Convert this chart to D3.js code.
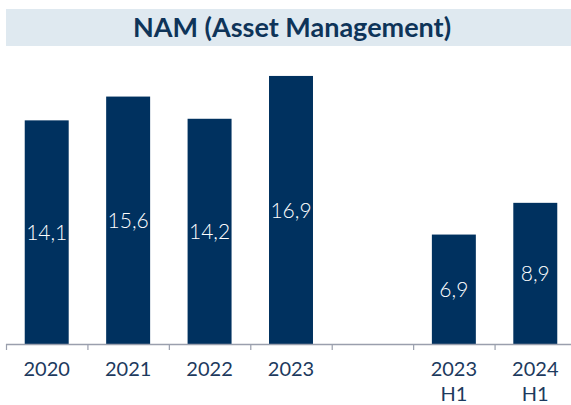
<!DOCTYPE html>
<html>
<head>
<meta charset="utf-8">
<script src="https://cdn.jsdelivr.net/npm/d3@7"></script>
<style>
  body { margin: 0; background: #fff; }
  svg { display: block; font-family: Lato, "Open Sans", sans-serif; }
</style>
</head>
<body>
<svg id="chart" width="571" height="405"></svg>
<script>
const categories = ['2020', '2021', '2022', '2023', '', '2023 H1', '2024 H1'];
const values = [14.1, 15.6, 14.2, 16.9, null, 6.9, 8.9];
const valueLabels = ['14,1', '15,6', '14,2', '16,9', '', '6,9', '8,9'];

const svg = d3.select('svg#chart');

// title band
svg.append('rect')
  .attr('x', 6)
  .attr('y', 9)
  .attr('width', 565)
  .attr('height', 37)
  .attr('fill', '#dfe9f0');

svg.append('text')
  .attr('x', 292)
  .attr('y', 37)
  .attr('text-anchor', 'middle')
  .attr('font-size', 27)
  .attr('font-weight', 'bold')
  .attr('fill', '#0e3459')
  .text('NAM (Asset Management)');

const xScale = d3.scaleBand()
  .domain(categories.map((c, i) => i))
  .range([6, 576])
  .padding(0);

const yScale = d3.scaleLinear()
  .domain([0, 18])
  .range([344, 58.5]);

const data = categories.map((c, i) => ({ i, cat: c, value: values[i], label: valueLabels[i] }))
  .filter(d => d.value != null);

const barW = xScale.bandwidth() * 0.54;

svg.selectAll('rect.bar')
  .data(data)
  .enter()
  .append('rect')
  .attr('class', 'bar')
  .attr('x', d => xScale(d.i) + (xScale.bandwidth() - barW) / 2)
  .attr('y', d => yScale(d.value))
  .attr('width', barW)
  .attr('height', d => yScale(0) - yScale(d.value))
  .attr('fill', '#00315f');

svg.selectAll('text.val')
  .data(data)
  .enter()
  .append('text')
  .attr('class', 'val')
  .attr('x', d => xScale(d.i) + xScale.bandwidth() / 2)
  .attr('y', d => (yScale(d.value) + yScale(0)) / 2 + 8)
  .attr('text-anchor', 'middle')
  .attr('font-size', 21)
  .attr('font-weight', 300)
  .attr('fill', '#fff')
  .text(d => d.label);

// x axis
svg.append('line')
  .attr('x1', 6)
  .attr('x2', 571)
  .attr('y1', yScale(0) + 0.5)
  .attr('y2', yScale(0) + 0.5)
  .attr('stroke', '#9a9fad')
  .attr('stroke-width', 1.5);

svg.selectAll('line.tick')
  .data(categories.map((c, i) => i))
  .enter()
  .append('line')
  .attr('class', 'tick')
  .attr('x1', i => xScale(i) + 0.5)
  .attr('x2', i => xScale(i) + 0.5)
  .attr('y1', yScale(0))
  .attr('y2', yScale(0) + 6)
  .attr('stroke', '#9a9fad')
  .attr('stroke-width', 1.2);

const tickLabels = svg.selectAll('text.cat')
  .data(categories.map((c, i) => ({ i, cat: c })))
  .enter()
  .append('text')
  .attr('class', 'cat')
  .attr('x', d => xScale(d.i) + xScale.bandwidth() / 2)
  .attr('y', 376)
  .attr('text-anchor', 'middle')
  .attr('font-size', 20)
  .attr('fill', '#1d3a5e');

tickLabels.each(function (d) {
  const parts = d.cat.split(' ');
  parts.forEach((p, k) => {
    d3.select(this).append('tspan')
      .attr('x', xScale(d.i) + xScale.bandwidth() / 2)
      .attr('dy', k === 0 ? 0 : 25)
      .text(p);
  });
});
</script>
</body>
</html>
